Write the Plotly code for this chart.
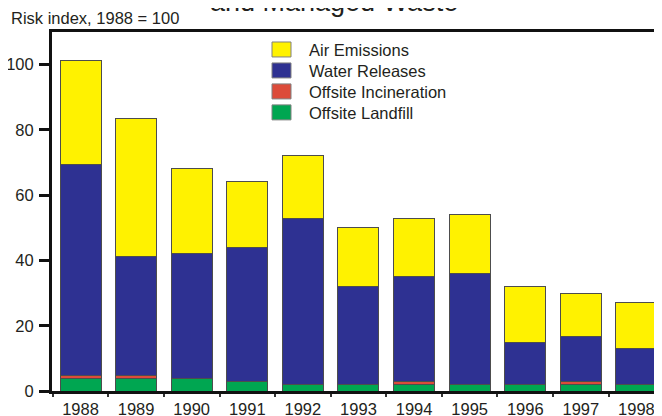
import plotly.graph_objects as go

years = ['1988', '1989', '1990', '1991', '1992', '1993', '1994', '1995', '1996', '1997', '1998']
landfill = [3.7, 3.7, 3.8, 2.8, 1.9, 1.9, 1.9, 1.9, 1.9, 1.9, 1.9]
incineration = [1.1, 1.1, 0, 0, 0, 0, 0.9, 0, 0, 0.9, 0]
water = [64.6, 36.4, 38.3, 41.2, 51.1, 30.0, 32.2, 34.0, 13.0, 14.0, 11.0]
air = [31.9, 42.3, 26.0, 20.1, 19.1, 18.2, 18.0, 18.3, 17.0, 13.2, 14.1]
total_labels = ['100', '83', '68', '64', '72', '50', '53', '54', '32', '30', '27']

series_names = ['Air Emissions', 'Water Releases', 'Offsite Incineration', 'Offsite Landfill']
series_colors = ['#FFF200', '#2E3192', '#DC4B3A', '#00A651']

W, H = 662, 416
OFF = 8  # page body margin, the figure sits 8px in from the corner
# plot area in window pixels: x 52..662, y 32..391.5
PL, PR, PT, PB = 52, 662, 32, 391.5
ML, MT = PL - OFF, PT - OFF
MR, MB = W - (PR - OFF), H - (PB - OFF)
FONT = 'Liberation Sans, Arial, sans-serif'
INK = '#231F20'
FS = 16.5


def px_x(p):
    return (p - PL) / (PR - PL)


def px_y(p):
    return (PB - p) / (PB - PT)


fig = go.Figure()
# bottom to top
for vals, name, col in [(landfill, series_names[3], series_colors[3]),
                        (incineration, series_names[2], series_colors[2]),
                        (water, series_names[1], series_colors[1]),
                        (air, series_names[0], series_colors[0])]:
    fig.add_trace(go.Bar(x=years, y=vals, name=name, marker_color=col,
                         marker_line=dict(color='#4D4D4D', width=1),
                         showlegend=False))

totals = [a + b + c + d for a, b, c, d in zip(landfill, incineration, water, air)]
for yr, t, lab in zip(years, totals, total_labels):
    fig.add_annotation(x=yr, y=t, text=lab, showarrow=False, yanchor='bottom',
                       yshift=2, font=dict(size=FS, color=INK))

# legend drawn by hand (large swatches)
for i, (name, col) in enumerate(zip(series_names, series_colors)):
    cy = 49.5 + 21 * i
    fig.add_shape(type='rect', xref='paper', yref='paper',
                  x0=px_x(272), x1=px_x(291), y0=px_y(cy + 7.5), y1=px_y(cy - 7.5),
                  fillcolor=col, line=dict(color='#808080', width=1))
    fig.add_annotation(xref='paper', yref='paper', x=px_x(307), y=px_y(cy + 1),
                       text=name, showarrow=False, xanchor='left', yanchor='middle',
                       font=dict(size=FS, color=INK))

fig.add_annotation(xref='paper', yref='paper', x=px_x(9), y=1, yshift=14,
                   text='Risk index, 1988 = 100', showarrow=False,
                   xanchor='left', yanchor='middle', font=dict(size=FS, color=INK))
fig.add_annotation(xref='paper', yref='paper', x=px_x(334), y=1, yshift=13,
                   text='and Managed Waste', showarrow=False,
                   xanchor='center', yanchor='bottom', font=dict(size=27, color=INK))

fig.update_layout(
    width=W, height=H,
    margin=dict(l=ML, r=MR, t=MT, b=MB, pad=0),
    barmode='stack', bargap=0.263,
    plot_bgcolor='white', paper_bgcolor='white',
    font=dict(family=FONT, size=FS, color=INK),
    xaxis=dict(type='category', range=[-0.513, 10.46], showline=True, linewidth=3,
               linecolor='#111111', mirror=True, ticks='outside', tickson='boundaries',
               ticklen=3, tickwidth=1.5, tickcolor='#333333', showgrid=False,
               tickfont=dict(size=FS), automargin=False, ticklabelstandoff=1),
    yaxis=dict(range=[0, 110], tickvals=[0, 20, 40, 60, 80, 100], showline=True,
               linewidth=3, linecolor='#111111', ticks='outside', ticklen=10,
               tickwidth=3, tickcolor='#111111', showgrid=False, zeroline=False,
               tickfont=dict(size=FS), automargin=False, ticklabelstandoff=2),
)

fig.write_html('out.html')
